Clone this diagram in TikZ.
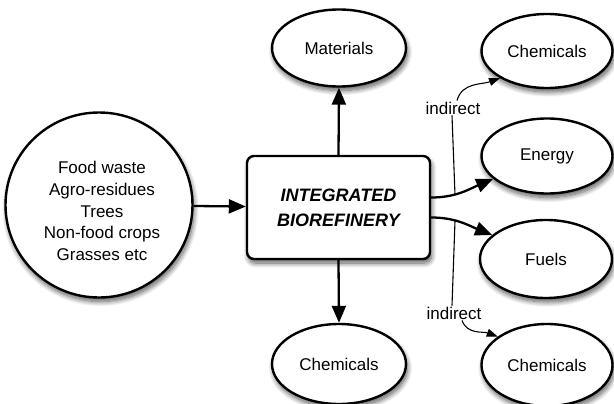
\documentclass[tikz,border=0pt]{standalone}
\usepackage{fontspec}
\setmainfont{Liberation Sans}
\usetikzlibrary{arrows.meta,shapes.geometric,shadows.blur}
\begin{document}
\begin{tikzpicture}[x=1pt,y=-1pt,
  shade/.style={blur shadow={shadow xshift=1.5pt,shadow yshift=-4pt,shadow blur steps=10,shadow blur radius=5pt,shadow opacity=65}},
  bubble/.style={ellipse,draw,line width=2.4pt,fill=white,inner sep=0pt,shade,font=\fontsize{17}{21.5}\selectfont,align=center},
  hubbox/.style={rectangle,rounded corners=7pt,draw,line width=2.4pt,fill=white,shade,font=\fontsize{18}{25}\selectfont\bfseries\itshape,align=center},
  lbl/.style={inner sep=1pt,font=\fontsize{17}{20}\selectfont},
  flow/.style={line width=2.3pt,-{Triangle[length=17pt,width=14pt]}},
  side/.style={line width=1.1pt},
  sidearrow/.style={line width=1.1pt,-{Triangle[length=11pt,width=8pt]}}]
\useasboundingbox (0,0) rectangle (614,404);

% feedstock circle and the central refinery
\node[bubble,minimum width=187pt,minimum height=185pt] (feed) at (99,205) {};
\node[lbl,align=center,font=\fontsize{17}{21.7}\selectfont] (feedtxt) at (102,211)
  {Food waste\\Agro-residues\\Trees\\Non-food crops\\Grasses etc};
\node[hubbox,minimum width=183pt,minimum height=103pt] (bio) at (338.5,207.5)
  {INTEGRATED\\BIOREFINERY};

% products
\node[bubble,minimum width=134pt,minimum height=77pt] (mat) at (339,48) {Materials};
\node[bubble,minimum width=134pt,minimum height=80pt] (chb) at (339,364) {Chemicals};
\node[bubble,minimum width=131pt,minimum height=74pt] (cht) at (547,51) {Chemicals};
\node[bubble,minimum width=131pt,minimum height=75pt] (en) at (547,156) {Energy};
\node[bubble,minimum width=132pt,minimum height=78pt] (fu) at (546,259) {Fuels};
\node[bubble,minimum width=131pt,minimum height=82pt] (chr) at (547,365) {Chemicals};

% main flows
\draw[flow] (feed) -- (bio);
\draw[flow] (bio.north) -- (mat.south);
\draw[flow] (bio.south) -- (chb.north);
\draw[flow] ([yshift=10pt]bio.east) to[out=0,in=203] (en.203);
\draw[flow] ([yshift=-10pt]bio.east) to[out=0,in=158] (fu.156);

% indirect routes
\node[lbl] (ind1) at (453,108) {indirect};
\node[lbl] (ind2) at (454,313) {indirect};
\coordinate (j1) at (455,195);
\coordinate (j2) at (455,221);
\draw[side] (j1) -- ([xshift=-1pt]ind1.south);
\draw[side] (j2) -- ([xshift=-2pt]ind2.north);
\draw[sidearrow] ([xshift=4pt]ind1.north) to[out=75,in=200] (cht.210);
\draw[sidearrow] ([xshift=8pt]ind2.south) to[out=-70,in=160] (chr.150);
\end{tikzpicture}
\end{document}
